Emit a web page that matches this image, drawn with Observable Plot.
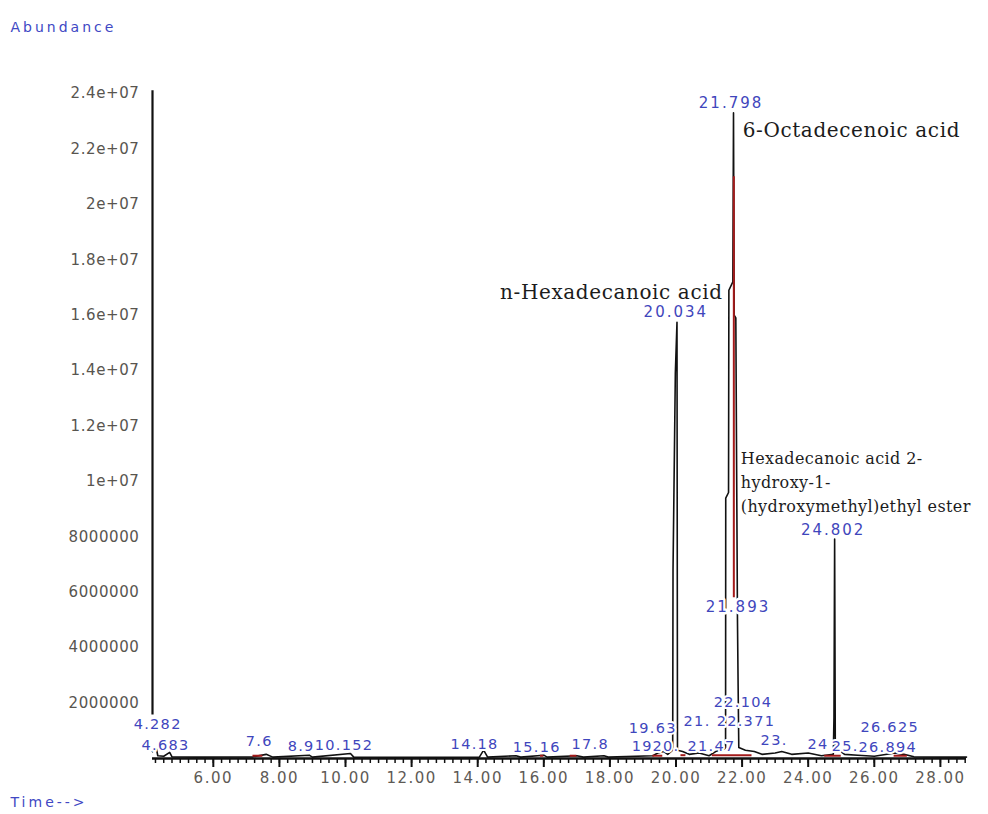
<!DOCTYPE html>
<html>
<head>
<meta charset="utf-8">
<script src="https://cdn.jsdelivr.net/npm/d3@7"></script>
<script src="https://cdn.jsdelivr.net/npm/@observablehq/plot@0.6"></script>
<style>
  body { margin: 0; background: #fff; }
  g[fill="#3f46bc"] text { letter-spacing: 2px; }
  g[fill="#3f46bd"] text { letter-spacing: 1.3px; }
  g[fill="#4048c4"] text { letter-spacing: 3px; }
  g[fill="#5e5a55"] text { letter-spacing: 1.5px; }
  g[fill="#58554f"] text { letter-spacing: 0.6px; }
  g[fill="#1c1c1c"] text { letter-spacing: 0.6px; }
  g[fill="#1c1c1d"] text { letter-spacing: 0.4px; }
</style>
</head>
<body>
<script>
// ---- Chromatogram trace (retention time in min, abundance) ----
const traceTime = [4.16, 4.20, 4.28, 4.32, 4.50, 4.68, 4.75, 5.5, 7.2, 7.6, 7.8, 8.9, 9.0, 10.15, 10.25, 12.0,
  14.05, 14.18, 14.3, 15.16, 15.3, 16.0, 16.1, 17.0, 17.2, 17.82, 17.95, 19.3, 19.45, 19.63, 19.75,
  19.90, 19.91, 19.98, 20.03, 20.045, 20.2, 20.4, 20.7, 21.0, 21.2, 21.47, 21.50, 21.505, 21.59, 21.60,
  21.72, 21.74, 21.76, 21.81, 21.86, 21.88, 21.90, 22.10, 22.37, 22.6, 23.0, 23.2, 23.5, 24.0, 24.4,
  24.76, 24.78, 24.80, 24.82, 25.1, 25.5, 26.0, 26.625, 26.894, 27.2, 28.0, 28.79];
const traceAbund = [0.25e6, 0.30e6, 0.35e6, 0.10e6, 0.08e6, 0.22e6, 0.06e6, 0.05e6, 0.06e6, 0.15e6, 0.05e6, 0.12e6, 0.05e6, 0.18e6, 0.05e6, 0.04e6,
  0.05e6, 0.30e6, 0.05e6, 0.10e6, 0.05e6, 0.12e6, 0.05e6, 0.10e6, 0.05e6, 0.10e6, 0.05e6, 0.10e6, 0.20e6, 0.25e6, 0.15e6,
  0.30e6, 6.8e6, 13.9e6, 15.74e6, 0.3e6, 0.25e6, 0.15e6, 0.20e6, 0.10e6, 0.25e6, 0.35e6, 0.4e6, 9.4e6, 9.6e6, 16.9e6,
  17.2e6, 23.3e6, 16.0e6, 15.9e6, 5.0e6, 2.6e6, 0.4e6, 0.3e6, 0.25e6, 0.15e6, 0.20e6, 0.25e6, 0.15e6, 0.20e6, 0.10e6,
  0.15e6, 1.5e6, 7.92e6, 0.4e6, 0.15e6, 0.12e6, 0.08e6, 0.20e6, 0.15e6, 0.06e6, 0.05e6, 0.05e6];

// Red integration marks
const redMainTime = [21.75];
const redMainLow = [5.8e6];
const redMainHigh = [21.0e6];
const redBaseStart = [7.2, 15.9, 16.8, 19.3, 20.15, 21.1, 24.5, 26.6];
const redBaseEnd   = [7.5, 16.0, 17.0, 19.6, 20.3, 22.3, 25.0, 27.0];
const redBaseLevel = [0.1e6, 0.1e6, 0.1e6, 0.1e6, 0.12e6, 0.12e6, 0.1e6, 0.1e6];

// Main peak retention-time labels
const mainLabelText = ["21.798", "20.034", "21.893", "24.802"];
const mainLabelTime = [20.69, 19.02, 20.90, 23.78];
const mainLabelLevel = [23.64e6, 16.10e6, 5.46e6, 8.24e6];

// Small peak labels near the baseline (as drawn, partly hidden in the original)
const smallLabelText = ["4.282", "4.683", "7.6", "8.9", "10.152", "14.18", "15.16", "17.8",
  "19.63", "19", "20.", "21.", "21.47", "22.371", "22.104", "23.", "24", "25.", "26.625", "26.894"];
const smallLabelTime = [3.59, 3.83, 6.98, 8.25, 9.07, 13.18, 15.06, 16.84,
  18.57, 18.66, 19.29, 20.23, 20.35, 21.23, 21.14, 22.56, 23.98, 24.71, 25.58, 25.52];
const smallLabelLevel = [1.24e6, 0.49e6, 0.63e6, 0.45e6, 0.49e6, 0.52e6, 0.41e6, 0.52e6,
  1.10e6, 0.45e6, 0.45e6, 1.35e6, 0.45e6, 1.35e6, 2.04e6, 0.67e6, 0.52e6, 0.45e6, 1.14e6, 0.41e6];

// Compound annotations
const compoundRightText = ["6-Octadecenoic acid", "Hexadecanoic acid 2-\nhydroxy-1-\n(hydroxymethyl)ethyl ester"];
const compoundRightTime = [22.02, 21.96];
const compoundRightLevel = [22.66e6, 10.04e6];
const compoundLeftText = ["n-Hexadecanoic acid"];
const compoundLeftTime = [21.41];
const compoundLeftLevel = [16.81e6];

// Axis ticks
const xMajorTicks = [6, 8, 10, 12, 14, 16, 18, 20, 22, 24, 26, 28];
const xMinorTicks = d3.range(4.25, 28.8, 0.25);
const yTicks = [2000000, 4000000, 6000000, 8000000, 10000000, 12000000, 14000000, 16000000, 18000000, 20000000, 22000000, 24000000];

const xDomain = [4.16, 28.79];

const zip = (ts, as, texts) => ts.map((t, i) => ({t, a: as[i], text: texts ? texts[i] : undefined}));
const trace = zip(traceTime, traceAbund);
const redMain = redMainTime.map((t, i) => ({t, lo: redMainLow[i], hi: redMainHigh[i]}));
const redBase = redBaseStart.map((s, i) => ({s, e: redBaseEnd[i], a: redBaseLevel[i]}));
const mainLabels = zip(mainLabelTime, mainLabelLevel, mainLabelText);
const smallLabels = zip(smallLabelTime, smallLabelLevel, smallLabelText);
const compRight = zip(compoundRightTime, compoundRightLevel, compoundRightText);
const compLeft = zip(compoundLeftTime, compoundLeftLevel, compoundLeftText);

function fmtY(d) {
  if (d >= 1e7) {
    let [m, e] = d.toExponential().split("e");
    e = e.replace("+", "");
    return m + "e+" + e.padStart(2, "0");
  }
  return String(d);
}

const chart = Plot.plot({
  width: 988,
  height: 814,
  marginLeft: 152,
  marginRight: 22,
  marginTop: 93,
  marginBottom: 56,
  x: {domain: xDomain},
  y: {domain: [0, 24e6]},
  style: {fontFamily: "DejaVu Sans", background: "#fff", overflow: "visible"},
  marks: [
    // axes
    Plot.axisX({ticks: xMinorTicks, tickSize: 5, tickFormat: () => "", stroke: "#111", strokeWidth: 1.5, label: null}),
    Plot.axisX({ticks: xMajorTicks, tickSize: 9, tickPadding: 5, tickFormat: d => d.toFixed(2), fontSize: 15, fill: "#5e5a55", stroke: "#111", strokeWidth: 2, label: null}),
    Plot.axisY({ticks: yTicks, tickSize: 0, tickPadding: 13, tickFormat: fmtY, fontSize: 15, fill: "#58554f", label: null}),
    Plot.ruleX([xDomain[0]], {y1: 1.57e6, y2: 24.1e6, stroke: "#111", strokeWidth: 2.2}),
    Plot.ruleY([0], {stroke: "#111", strokeWidth: 2.6}),
    // trace
    Plot.line(trace, {x: "t", y: "a", stroke: "#111", strokeWidth: 1.6}),
    Plot.ruleX(redMain, {x: "t", y1: "lo", y2: "hi", stroke: "#a31a1a", strokeWidth: 2}),
    Plot.ruleY(redBase, {y: "a", x1: "s", x2: "e", stroke: "#a31a1a", strokeWidth: 2}),
    // peak labels
    Plot.text(smallLabels, {x: "t", y: "a", text: "text", textAnchor: "start", fontSize: 14.5,
      fill: "#3f46bd", stroke: "#fff", strokeWidth: 4, paintOrder: "stroke"}),
    Plot.text(mainLabels, {x: "t", y: "a", text: "text", textAnchor: "start", fontSize: 15,
      fill: "#3f46bc", stroke: "#fff", strokeWidth: 5, paintOrder: "stroke"}),
    // compound annotations
    Plot.text(compRight.slice(0, 1), {x: "t", y: "a", text: "text", textAnchor: "start", fontSize: 20,
      fontFamily: "DejaVu Serif", fill: "#1c1c1c"}),
    Plot.text(compRight.slice(1), {x: "t", y: "a", text: "text", textAnchor: "start", fontSize: 16,
      lineHeight: 1.5, fontFamily: "DejaVu Serif", fill: "#1c1c1d"}),
    Plot.text(compLeft, {x: "t", y: "a", text: "text", textAnchor: "end", fontSize: 20,
      fontFamily: "DejaVu Serif", fill: "#1c1c1c"}),
    // outer labels
    Plot.text(["Abundance"], {frameAnchor: "top-left", dx: -142, dy: -71, textAnchor: "start", fontSize: 14, fill: "#4048c4"}),
    Plot.text(["Time-->"], {frameAnchor: "bottom-left", dx: -142, dy: 48, textAnchor: "start", fontSize: 14, fill: "#4048c4"})
  ]
});
document.body.appendChild(chart);
</script>
</body>
</html>
